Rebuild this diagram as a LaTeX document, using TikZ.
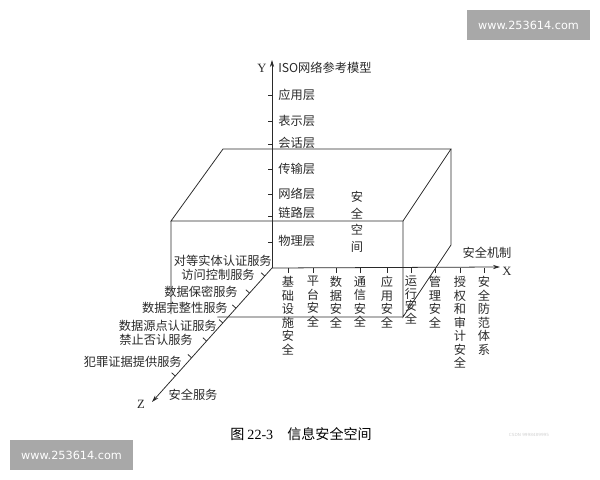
\documentclass[tikz,border=0pt]{standalone}
\usepackage{fontspec}
\setmainfont{Liberation Serif}
\newfontfamily\cjk{Noto Sans CJK SC}
\newfontfamily\wmfont{DejaVu Sans}
\usetikzlibrary{calc,arrows.meta}
\definecolor{inkgray}{HTML}{2A2A2A}
\definecolor{wmgray}{HTML}{A8A8A8}
\begin{document}
\begin{tikzpicture}[x=0.025cm, y=-0.025cm,
        every node/.style={inner sep=0pt, text=inkgray},
        edge/.style={draw=inkgray, line width=0.55pt},
        axis/.style={edge, -{Stealth[length=5pt,width=3pt]}},
        lab/.style={font=\cjk\fontsize{8.7}{9.6}\selectfont},
        vlab/.style={lab, anchor=north, align=center},
        wmtext/.style={text=white, font=\wmfont\fontsize{8}{9}\selectfont}]
        \useasboundingbox (0,0) rectangle (600,480);
        \fill[wmgray] (467,10) rectangle (590,40) node[pos=.5, wmtext] (wmtop) {www.253614.com};
        \fill[wmgray] (10,440) rectangle (133,470) node[pos=.5, wmtext] (wmbot) {www.253614.com};
        \node[font=\wmfont\fontsize{3}{3}\selectfont, text=gray!35] (csdn) at (529,435) {CSDN 9998489995};
        \coordinate (O) at (272,268);
        \coordinate (Yt) at (272,60);
        \coordinate (Xt) at (500,267);
        \coordinate (Zt) at (152,402);
        \coordinate (fTL) at (171,221);
        \coordinate (fTR) at (403,221);
        \coordinate (fBR) at (403,317);
        \coordinate (fBL) at (171,317);
        \coordinate (bTL) at (223,149);
        \coordinate (bTR) at (451,149);
        \coordinate (bBR) at (451,245);
        \draw[edge] (fTL) -- (bTL) -- (bTR) -- (fTR) -- cycle;
        \draw[edge] (bTR) -- (bBR) -- (fBR) -- (fTR);
        \draw[edge] (fTL) -- ($(fTL)!0.97!(fBL)$);
        \draw[edge] ($(fBL)!0.2!(fBR)$) -- (fBR);
        \draw[axis] (O) -- (Yt);
        \draw[axis] (O) -- (Xt);
        \draw[axis] (O) -- (Zt);
        \node[font=\fontsize{9}{10}\selectfont] (ylab) at (262,68) {Y};
        \node[font=\fontsize{9}{10}\selectfont] (xlab) at (507,271) {X};
        \node[font=\fontsize{9}{10}\selectfont] (zlab) at (141,404) {Z};
        \node[lab, anchor=west] (iso) at (278,68) {ISO网络参考模型};
        \node[lab] (mech) at (487,253) {安全机制};
        \node[lab] (serv) at (193,395) {安全服务};
        \node[lab, align=center, font=\cjk\fontsize{8.7}{11.7}\selectfont] (space) at (357,222) {安\\全\\空\\间};
        \draw[edge] (268,95) -- (272,95);
        \node[lab, anchor=west] (app) at (278,95) {应用层};
        \draw[edge] (268,121) -- (272,121);
        \node[lab, anchor=west] (pres) at (278,121) {表示层};
        \draw[edge] (268,144) -- (272,144);
        \node[lab, anchor=west] (sess) at (278,143) {会话层};
        \draw[edge] (268,169) -- (272,169);
        \node[lab, anchor=west] (trans) at (278,169) {传输层};
        \draw[edge] (268,194) -- (272,194);
        \node[lab, anchor=west] (net) at (278,194) {网络层};
        \draw[edge] (268,216) -- (272,216);
        \node[lab, anchor=west] (link) at (278,213) {链路层};
        \draw[edge] (268,242) -- (272,242);
        \node[lab, anchor=west] (phys) at (278,241) {物理层};
        \draw[edge] (288,268) -- (288,273);
        \node[vlab] (infra) at (288,276) {基\\础\\设\\施\\安\\全};
        \draw[edge] (313,268) -- (313,273);
        \node[vlab] (plat) at (313,276) {平\\台\\安\\全};
        \draw[edge] (336,268) -- (336,273);
        \node[vlab] (data) at (336,276) {数\\据\\安\\全};
        \draw[edge] (360,268) -- (360,273);
        \node[vlab] (comm) at (360,276) {通\\信\\安\\全};
        \draw[edge] (387,268) -- (387,273);
        \node[vlab] (appl) at (387,276) {应\\用\\安\\全};
        \draw[edge] (411,268) -- (411,273);
        \node[vlab, font=\cjk\fontsize{8.7}{8.9}\selectfont] (oper) at (411,276) {运\\行\\安\\全};
        \draw[edge] (435,268) -- (435,273);
        \node[vlab] (mgmt) at (435,276) {管\\理\\安\\全};
        \draw[edge] (460,268) -- (460,273);
        \node[vlab] (audit) at (460,276) {授\\权\\和\\审\\计\\安\\全};
        \draw[edge] (484,268) -- (484,273);
        \node[vlab] (guard) at (484,276) {安\\全\\防\\范\\体\\系};
        \node[lab, anchor=east] (peer) at (272,261) {对等实体认证服务};
        \draw[edge] ($(O)!0.06!(Zt)$) -- ++(-3.7,-3.3);
        \node[lab, anchor=east] (access) at (255,275) {访问控制服务};
        \draw[edge] ($(O)!0.187!(Zt)$) -- ++(-3.7,-3.3);
        \node[lab, anchor=east] (conf) at (238,292) {数据保密服务};
        \draw[edge] ($(O)!0.30!(Zt)$) -- ++(-3.7,-3.3);
        \node[lab, anchor=east] (integ) at (228,308) {数据完整性服务};
        \draw[edge] ($(O)!0.41!(Zt)$) -- ++(-3.7,-3.3);
        \node[lab, anchor=east] (origin) at (217,326) {数据源点认证服务};
        \draw[edge] ($(O)!0.545!(Zt)$) -- ++(-3.7,-3.3);
        \node[lab, anchor=east] (nonrep) at (193,340) {禁止否认服务};
        \draw[edge] ($(O)!0.67!(Zt)$) -- ++(-3.7,-3.3);
        \node[lab, anchor=east] (crime) at (182,362) {犯罪证据提供服务};
        \draw[edge] ($(O)!0.806!(Zt)$) -- ++(-3.7,-3.3);
        \node[anchor=west, text=black, font=\cjk\fontsize{10}{12}\selectfont] (caption) at (230,434) {图 {\rmfamily 22-3}\hspace{1em}信息安全空间};
\end{tikzpicture}
\end{document}
